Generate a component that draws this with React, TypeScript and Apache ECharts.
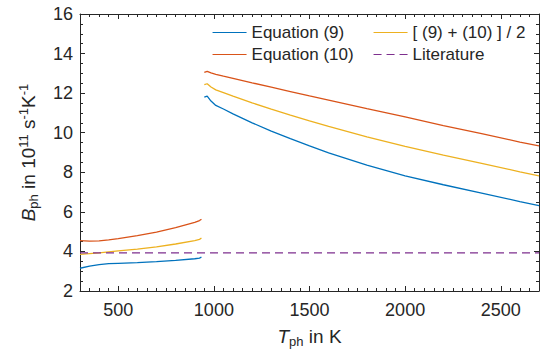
import React, { useEffect, useRef } from "react";
import * as echarts from "echarts";

const seg1T = [300, 350, 400, 450, 500, 600, 700, 800, 900, 925, 935];
const eq9Seg1 = [3.15, 3.26, 3.33, 3.38, 3.4, 3.43, 3.48, 3.55, 3.63, 3.66, 3.72];
const eq10Seg1 = [4.55, 4.52, 4.53, 4.58, 4.65, 4.8, 4.98, 5.2, 5.47, 5.56, 5.63];
const avgSeg1 = [3.85, 3.89, 3.93, 3.98, 4.03, 4.115, 4.23, 4.375, 4.55, 4.61, 4.675];

const seg2T = [950, 965, 985, 1010, 1050, 1100, 1200, 1300, 1400, 1500, 1600, 1800, 2000, 2200, 2400, 2600, 2700];
const eq9Seg2 = [11.8, 11.85, 11.6, 11.38, 11.2, 10.95, 10.5, 10.08, 9.7, 9.33, 8.98, 8.36, 7.82, 7.37, 6.95, 6.52, 6.31];
const eq10Seg2 = [13.05, 13.1, 13.02, 12.95, 12.86, 12.75, 12.52, 12.3, 12.08, 11.86, 11.65, 11.22, 10.8, 10.36, 9.95, 9.53, 9.33];
const avgSeg2 = [12.425, 12.475, 12.31, 12.165, 12.03, 11.85, 11.51, 11.19, 10.89, 10.595, 10.315, 9.79, 9.31, 8.865, 8.45, 8.025, 7.82];

const litT = [300, 2700];
const litVals = [3.93, 3.93];

const gapT = 940;
const xMajorTicks = [500, 1000, 1500, 2000, 2500];
const xMin = 300;
const xMax = 2700;
const yMin = 2;
const yMax = 16;

const names = ["Equation (9)", "Equation (10)", "[ (9) + (10) ] / 2", "Literature"];
const colors = ["#0072BD", "#D95319", "#EDB120", "#7E2F8E"];

function buildPairs(t1: number[], v1: number[], t2: number[], v2: number[]) {
  const out: any[] = [];
  t1.forEach((t, i) => out.push([t, v1[i]]));
  out.push([gapT, "-"]);
  t2.forEach((t, i) => out.push([t, v2[i]]));
  return out;
}

const FONT = "Liberation Sans, Arial, sans-serif";
const INK = "#262626";

export default function App() {
  const ref = useRef<HTMLDivElement>(null);
  useEffect(() => {
    if (!ref.current) return;
    const chart = echarts.init(ref.current, null, { renderer: "svg" });

    const baseX = {
      type: "value",
      min: xMin,
      max: xMax,
      splitLine: { show: false },
    };
    const rich = {
      i: { fontStyle: "italic", fontSize: 19, fontFamily: FONT, color: INK },
      n: { fontSize: 19, fontFamily: FONT, color: INK },
      sub: { fontSize: 13, fontFamily: FONT, color: INK, padding: [10, 0, 0, 0] },
      sup: { fontSize: 13, fontFamily: FONT, color: INK, padding: [0, 0, 10, 0] },
    };
    const legendBase = {
      orient: "vertical",
      top: 19,
      itemWidth: 34,
      itemHeight: 12,
      itemGap: 5,
      itemStyle: { opacity: 0 },
      lineStyle: { width: 1.1 },
      textStyle: { fontSize: 17, fontFamily: FONT, color: INK },
    };

    chart.setOption({
      animation: false,
      grid: { left: 80, right: 3, top: 14, bottom: 67 },
      legend: [
        { ...legendBase, left: 207, data: [names[0], names[1]] },
        { ...legendBase, left: 368, data: [names[2], names[3]] },
      ],
      xAxis: [
        {
          ...baseX,
          position: "bottom",
          axisLine: { show: true, onZero: false, lineStyle: { color: INK, width: 1 } },
          axisTick: { show: true, inside: true, length: 5, customValues: xMajorTicks, lineStyle: { color: INK } },
          axisLabel: {
            show: true,
            customValues: xMajorTicks,
            margin: 10,
            fontSize: 18,
            fontFamily: FONT,
            color: INK,
            formatter: (v: number) => String(v),
          },
          name: "{i|T}{sub|ph}{n| in K}",
          nameLocation: "middle",
          nameGap: 34,
          nameTextStyle: { rich },
        },
        {
          ...baseX,
          position: "bottom",
          interval: 50,
          axisLine: { show: false, onZero: false },
          axisTick: { show: true, inside: true, length: 3, lineStyle: { color: INK } },
          axisLabel: { show: false },
        },
        {
          ...baseX,
          position: "top",
          axisLine: { show: true, onZero: false, lineStyle: { color: INK, width: 1 } },
          axisTick: { show: true, inside: true, length: 5, customValues: xMajorTicks, lineStyle: { color: INK } },
          axisLabel: { show: false },
        },
        {
          ...baseX,
          position: "top",
          interval: 50,
          axisLine: { show: false, onZero: false },
          axisTick: { show: true, inside: true, length: 3, lineStyle: { color: INK } },
          axisLabel: { show: false },
        },
      ],
      yAxis: [
        {
          type: "value",
          min: yMin,
          max: yMax,
          interval: 2,
          position: "left",
          splitLine: { show: false },
          axisLine: { show: true, onZero: false, lineStyle: { color: INK, width: 1 } },
          axisTick: { show: true, inside: true, length: 5, lineStyle: { color: INK } },
          minorTick: { show: true, splitNumber: 4, length: 3, lineStyle: { color: INK } },
          axisLabel: { show: true, margin: 7, fontSize: 18, fontFamily: FONT, color: INK },
          name: "{i|B}{sub|ph}{n| in 10}{sup|11}{n| s}{sup|-1}{n|K}{sup|-1}",
          nameLocation: "middle",
          nameRotate: 90,
          nameGap: 40,
          nameTextStyle: { rich },
        },
        {
          type: "value",
          min: yMin,
          max: yMax,
          interval: 2,
          position: "right",
          splitLine: { show: false },
          axisLine: { show: true, onZero: false, lineStyle: { color: INK, width: 1 } },
          axisTick: { show: true, inside: true, length: 5, lineStyle: { color: INK } },
          minorTick: { show: true, splitNumber: 4, length: 3, lineStyle: { color: INK } },
          axisLabel: { show: false },
        },
      ],
      series: [
        {
          name: names[0],
          type: "line",
          symbol: "none",
          data: buildPairs(seg1T, eq9Seg1, seg2T, eq9Seg2),
          lineStyle: { color: colors[0], width: 1.3 },
          itemStyle: { color: colors[0] },
        },
        {
          name: names[1],
          type: "line",
          symbol: "none",
          data: buildPairs(seg1T, eq10Seg1, seg2T, eq10Seg2),
          lineStyle: { color: colors[1], width: 1.3 },
          itemStyle: { color: colors[1] },
        },
        {
          name: names[2],
          type: "line",
          symbol: "none",
          data: buildPairs(seg1T, avgSeg1, seg2T, avgSeg2),
          lineStyle: { color: colors[2], width: 1.3 },
          itemStyle: { color: colors[2] },
        },
        {
          name: names[3],
          type: "line",
          symbol: "none",
          data: litT.map((t, i) => [t, litVals[i]]),
          lineStyle: { color: colors[3], width: 1.3, type: [8, 5] },
          itemStyle: { color: colors[3] },
        },
      ],
    });
    return () => chart.dispose();
  }, []);
  return <div ref={ref} style={{ width: 542, height: 358, position: "absolute", left: 0, top: 0 }} />;
}
